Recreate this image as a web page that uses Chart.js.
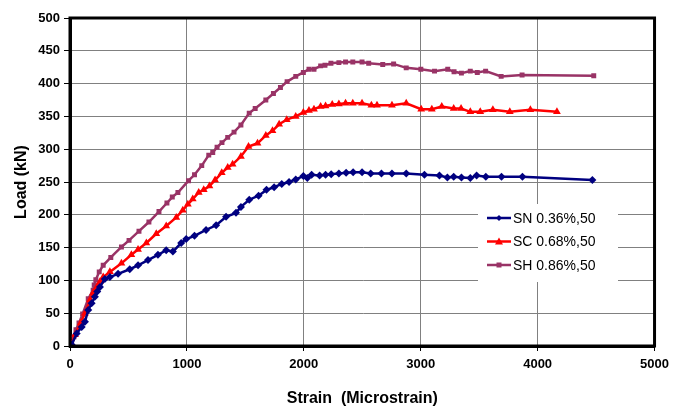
<!DOCTYPE html>
<html>
<head>
<meta charset="utf-8">
<script src="https://cdn.jsdelivr.net/npm/chart.js@4.4.1/dist/chart.umd.min.js"></script>
<style>
    html, body { margin: 0; padding: 0; background: #fff; }
    #wrap { width: 675px; height: 412px; position: relative; }
</style>
</head>
<body>
<div id="wrap"><canvas id="chart"></canvas></div>
<script>
// Data
const seriesNames = ['SN 0.36%,50', 'SC 0.68%,50', 'SH 0.86%,50'];

const snStrain = [0, 14, 57, 100, 128, 156, 185, 213, 233, 256, 298, 341, 411, 511, 582, 667, 752, 823, 880, 951, 994, 1065, 1164, 1250, 1335, 1420, 1462, 1533, 1613, 1681, 1746, 1811, 1874, 1931, 1996, 2030, 2067, 2135, 2186, 2234, 2300, 2362, 2422, 2498, 2572, 2664, 2754, 2876, 3032, 3160, 3228, 3282, 3348, 3424, 3478, 3557, 3691, 3870, 4468];
const snLoad = [0, 2, 19, 29, 37, 55, 65, 75, 83, 90, 102, 105, 110, 117, 123, 131, 139, 146, 144, 157, 163, 168, 177, 184, 197, 203, 212, 223, 229, 238, 242, 247, 250, 254, 259, 256, 261, 260, 261, 262, 263, 264, 265, 265, 263, 263, 263, 263, 261, 260, 257, 258, 257, 256, 260, 258, 258, 258, 253];

const scStrain = [0, 14, 43, 91, 128, 170, 198, 227, 256, 284, 341, 440, 525, 582, 653, 738, 823, 909, 965, 1008, 1050, 1101, 1144, 1193, 1241, 1298, 1349, 1391, 1462, 1527, 1604, 1675, 1732, 1789, 1854, 1931, 1996, 2044, 2087, 2144, 2186, 2243, 2300, 2357, 2419, 2498, 2578, 2626, 2754, 2876, 3004, 3095, 3180, 3282, 3345, 3424, 3509, 3617, 3762, 3938, 4165];
const scLoad = [0, 2, 17, 35, 50, 70, 81, 89, 98, 105, 113, 126, 139, 147, 157, 171, 183, 196, 207, 216, 224, 234, 238, 244, 253, 264, 272, 277, 289, 304, 309, 321, 328, 338, 345, 350, 356, 359, 361, 365, 366, 368, 369, 370, 370, 370, 367, 367, 367, 370, 361, 361, 365, 362, 362, 357, 357, 360, 357, 360, 357];

const shStrain = [0, 14, 34, 51, 77, 108, 156, 198, 207, 221, 250, 284, 349, 440, 505, 590, 675, 761, 829, 875, 923, 1014, 1065, 1127, 1187, 1221, 1258, 1300, 1349, 1403, 1462, 1533, 1584, 1675, 1740, 1800, 1857, 1931, 1996, 2044, 2087, 2144, 2181, 2232, 2300, 2357, 2419, 2498, 2555, 2675, 2768, 2876, 3001, 3118, 3231, 3285, 3348, 3424, 3484, 3555, 3688, 3867, 4480];
const shLoad = [0, 4, 14, 25, 35, 49, 72, 85, 93, 101, 113, 123, 135, 151, 161, 175, 189, 205, 218, 227, 234, 252, 261, 275, 291, 295, 303, 310, 318, 326, 337, 355, 362, 375, 385, 394, 403, 411, 417, 422, 422, 427, 428, 431, 432, 433, 433, 433, 431, 429, 430, 424, 422, 419, 422, 418, 416, 419, 417, 419, 411, 413, 412];

const xTicks = [0, 1000, 2000, 3000, 4000, 5000];
const yTicks = [0, 50, 100, 150, 200, 250, 300, 350, 400, 450, 500];

const colors = ['#000080', '#ff0000', '#993366'];
const markers = ['rectRot', 'triangle', 'rect'];
const markerSize = [4, 4.5, 3.5];

function pairs(xs, ys) {
    return xs.map((x, i) => ({ x: x, y: ys[i] }));
}

const allData = [pairs(snStrain, snLoad), pairs(scStrain, scLoad), pairs(shStrain, shLoad)];

// Frame around the plot area plus the floating legend box
const framePlugin = {
    id: 'frame',
    afterDraw(chart) {
        const ctx = chart.ctx;
        const a = chart.chartArea;
        ctx.save();
        ctx.strokeStyle = '#000';
        ctx.lineWidth = 3;
        ctx.strokeRect(a.left, a.top, a.right - a.left, a.bottom - a.top);

        // legend
        const lx = 478, ly = 204, lw = 140, lh = 78;
        ctx.fillStyle = '#fff';
        ctx.fillRect(lx, ly, lw, lh);
        ctx.font = '14px "Liberation Sans", Arial, sans-serif';
        ctx.textBaseline = 'middle';
        seriesNames.forEach((name, i) => {
            const cy = 218 + i * 23.5;
            ctx.strokeStyle = colors[i];
            ctx.lineWidth = 2.5;
            ctx.beginPath();
            ctx.moveTo(487, cy);
            ctx.lineTo(511, cy);
            ctx.stroke();
            ctx.fillStyle = colors[i];
            ctx.beginPath();
            if (markers[i] === 'rectRot') {
                ctx.moveTo(499, cy - 3); ctx.lineTo(502, cy); ctx.lineTo(499, cy + 3); ctx.lineTo(496, cy);
            } else if (markers[i] === 'triangle') {
                ctx.moveTo(499, cy - 4); ctx.lineTo(503, cy + 3); ctx.lineTo(495, cy + 3);
            } else {
                ctx.rect(496.5, cy - 2.5, 5, 5);
            }
            ctx.closePath();
            ctx.fill();
            ctx.fillStyle = '#000';
            ctx.fillText(name, 513, cy + 1);
        });
        ctx.restore();
    }
};

Chart.defaults.font.family = '"Liberation Sans", Arial, sans-serif';
Chart.defaults.color = '#000';

new Chart(document.getElementById('chart'), {
    type: 'line',
    data: {
        datasets: seriesNames.map((name, i) => ({
            label: name,
            data: allData[i],
            borderColor: colors[i],
            backgroundColor: colors[i],
            borderWidth: 2.5,
            pointStyle: markers[i],
            pointRadius: markerSize[i],
            pointBorderWidth: 0,
            tension: 0
        }))
    },
    options: {
        responsive: true,
        maintainAspectRatio: false,
        animation: false,
        layout: { padding: { top: 18, right: 19, left: 0, bottom: 0 } },
        plugins: {
            legend: { display: false },
            tooltip: { enabled: false }
        },
        scales: {
            x: {
                type: 'linear',
                min: 0,
                max: 5000,
                afterBuildTicks: s => { s.ticks = xTicks.map(v => ({ value: v })); },
                afterFit: s => { s.height = 66; },
                ticks: { font: { size: 13, weight: 'bold' }, padding: 6, callback: v => String(v) },
                grid: { color: '#808080', lineWidth: 1, tickColor: '#000', tickLength: 5 },
                border: { color: '#000', width: 3 },
                title: {
                    display: true,
                    text: 'Strain  (Microstrain)',
                    font: { size: 16, weight: 'bold' },
                    padding: { top: 8, bottom: 4 }
                }
            },
            y: {
                type: 'linear',
                min: 0,
                max: 500,
                afterBuildTicks: s => { s.ticks = yTicks.map(v => ({ value: v })); },
                afterFit: s => { s.width = 70; },
                ticks: { font: { size: 13, weight: 'bold' }, padding: 4, callback: v => String(v) },
                grid: { color: '#808080', lineWidth: 1, tickColor: '#000', tickLength: 6 },
                border: { color: '#000', width: 3 },
                title: {
                    display: true,
                    text: 'Load (kN)',
                    font: { size: 16, weight: 'bold' },
                    padding: { top: 12, bottom: 4 }
                }
            }
        }
    },
    plugins: [framePlugin]
});
</script>
</body>
</html>
